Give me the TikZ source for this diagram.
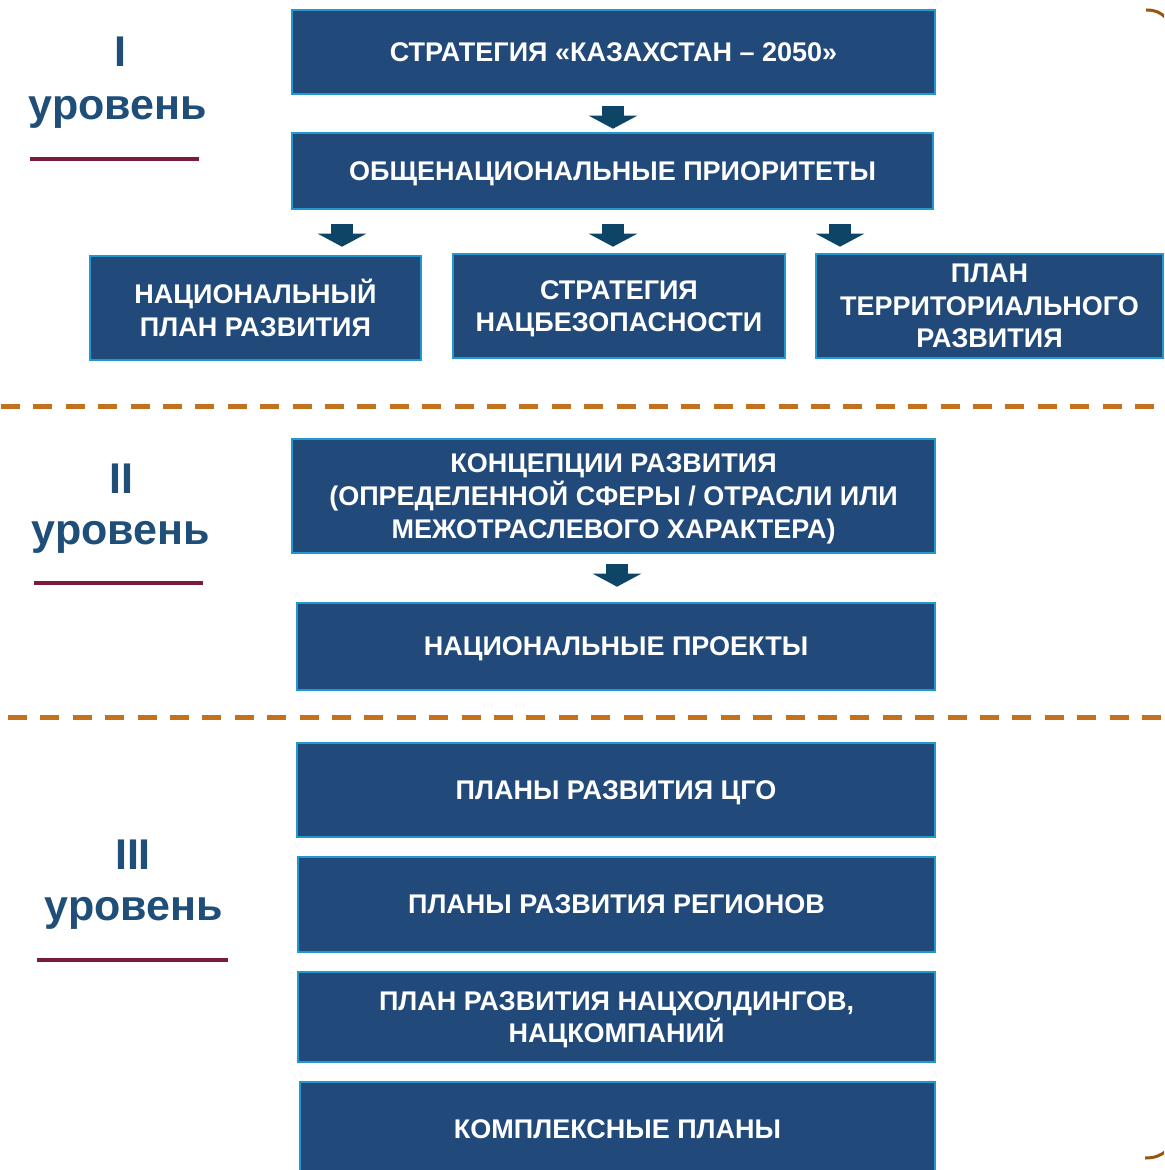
\documentclass[tikz,border=0pt]{standalone}
\usepackage{fontspec}
\setmainfont{Liberation Sans}
\usetikzlibrary{arrows.meta}

\definecolor{boxblue}{HTML}{21497A}
\definecolor{boxedge}{HTML}{2398CF}
\definecolor{arrowblue}{HTML}{0E4466}
\definecolor{lvlblue}{HTML}{1F4E79}
\definecolor{lvlline}{HTML}{7B1A3B}
\definecolor{sepline}{HTML}{C3711C}
\definecolor{bracket}{HTML}{9A5510}

\tikzset{
  box/.style={draw=boxedge, fill=boxblue, line width=1.3pt, text=white, align=center,
    font=\bfseries\fontsize{13.5}{16.3}\selectfont, inner sep=0pt, text depth=0pt},
  lvl/.style={text=lvlblue, font=\bfseries\fontsize{21.5}{24}\selectfont, inner sep=0pt},
  blockarr/.style={draw=arrowblue, line width=11pt,
    -{Triangle[width=24pt,length=6.5pt]}},
  lvlrule/.style={draw=lvlline, line width=2pt},
  sep/.style={draw=sepline, line width=2.5pt, dash pattern=on 9.5pt off 6.7pt}
}

\begin{document}
\begin{tikzpicture}[x=0.5pt,y=-0.5pt]
    \useasboundingbox (0,0) rectangle (1164,1170);
    \clip (0,0) rectangle (1164,1170);

    % level I
    \node [box, minimum width=321.5pt, minimum height=42pt] (strat) at (613.5,52) {СТРАТЕГИЯ «КАЗАХСТАН – 2050»};
    \node [box, minimum width=320.5pt, minimum height=38pt] (prio) at (612.5,171) {ОБЩЕНАЦИОНАЛЬНЫЕ ПРИОРИТЕТЫ};
    \node [box, minimum width=165.5pt, minimum height=52pt] (npr) at (255.5,308) {НАЦИОНАЛЬНЫЙ\\ПЛАН РАЗВИТИЯ};
    \node [box, minimum width=166pt, minimum height=52pt] (nsec) at (619,306) {СТРАТЕГИЯ\\НАЦБЕЗОПАСНОСТИ};
    \node [box, minimum width=173.5pt, minimum height=52pt] (terr) at (989.5,306) {ПЛАН\\ТЕРРИТОРИАЛЬНОГО\\РАЗВИТИЯ};

    \draw [blockarr, shorten <=5.5pt, shorten >=1.5pt] (613,0 |- strat.south) -- (613,0 |- prio.north);
    \draw [blockarr, shorten <=7pt, shorten >=4pt] (342,0 |- prio.south) -- (342,0 |- npr.north);
    \draw [blockarr, shorten <=7pt, shorten >=3pt] (613,0 |- prio.south) -- (613,0 |- nsec.north);
    \draw [blockarr, shorten <=7pt, shorten >=3pt] (840,0 |- prio.south) -- (840,0 |- terr.north);

    \node [lvl] (lvlone) at (120,52) {I};
    \node [lvl] (lvlonetxt) at (118,112) {уровень};
    \draw [lvlrule] (30,159) -- (199,159);

    \draw [sep] (1,406) -- (1164,406);

    % level II
    \node [box, minimum width=321.5pt, minimum height=57pt] (conc) at (613.5,496) {КОНЦЕПЦИИ РАЗВИТИЯ\\(ОПРЕДЕЛЕННОЙ СФЕРЫ / ОТРАСЛИ ИЛИ\\МЕЖОТРАСЛЕВОГО ХАРАКТЕРА)};
    \node [box, minimum width=319pt, minimum height=43.5pt] (proj) at (616,646.5) {НАЦИОНАЛЬНЫЕ ПРОЕКТЫ};

    \draw [blockarr, shorten <=5pt, shorten >=7.5pt] (617,0 |- conc.south) -- (617,0 |- proj.north);

    \node [lvl] (lvltwo) at (121,479) {II};
    \node [lvl] (lvltwotxt) at (121,537) {уровень};
    \draw [lvlrule] (34,583) -- (203,583);

    \draw [sep] (8,717) -- (1164,717);

    % level III
    \node [box, minimum width=319pt, minimum height=47pt] (cgo) at (616,790) {ПЛАНЫ РАЗВИТИЯ ЦГО};
    \node [box, minimum width=318.5pt, minimum height=47.5pt] (reg) at (616.5,904.5) {ПЛАНЫ РАЗВИТИЯ РЕГИОНОВ};
    \node [box, minimum width=318.5pt, minimum height=45pt] (hold) at (616.5,1017) {ПЛАН РАЗВИТИЯ НАЦХОЛДИНГОВ,\\НАЦКОМПАНИЙ};
    \node [box, minimum width=317.5pt, minimum height=47pt] (kompl) at (617.5,1129) {КОМПЛЕКСНЫЕ ПЛАНЫ};

    \node [lvl] (lvlthree) at (133,855) {III};
    \node [lvl] (lvlthreetxt) at (134,913) {уровень};
    \draw [lvlrule] (37,960) -- (228,960);

    % brackets at the right edge
    \draw [bracket, line width=1.5pt] (1146,10) .. controls (1155,10) and (1160,12) .. (1166,18);
    \draw [bracket, line width=1.5pt] (1145,1158) .. controls (1154,1158) and (1160,1156) .. (1166,1151);

\end{tikzpicture}
\end{document}
